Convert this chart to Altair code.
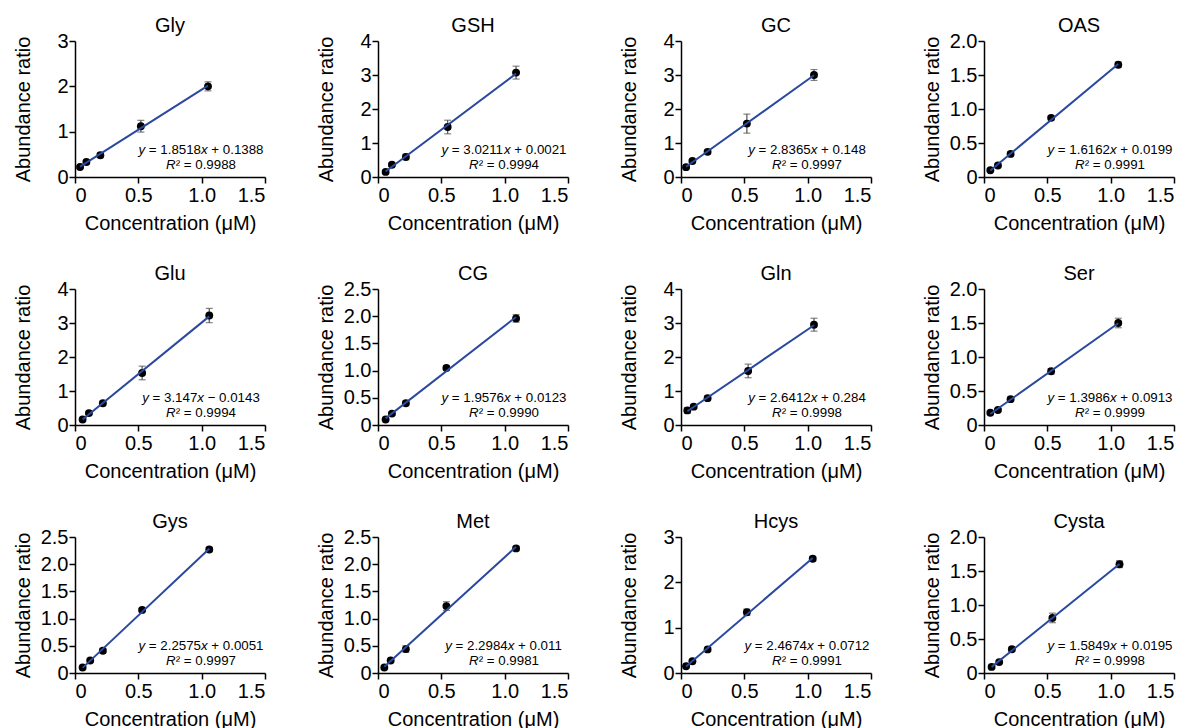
import altair as alt
import pandas as pd

# ---------------- data ----------------
names = ["Gly", "GSH", "GC", "OAS", "Glu", "CG", "Gln", "Ser", "Gys", "Met", "Hcys", "Cysta"]
slope_txt = ["1.8518", "3.0211", "2.8365", "1.6162", "3.147", "1.9576",
             "2.6412", "1.3986", "2.2575", "2.2984", "2.4674", "1.5849"]
intercept_txt = ["0.1388", "0.0021", "0.148", "0.0199", "-0.0143", "0.0123",
                 "0.284", "0.0913", "0.0051", "0.011", "0.0712", "0.0195"]
r2_txt = ["0.9988", "0.9994", "0.9997", "0.9991", "0.9994", "0.9990",
          "0.9998", "0.9999", "0.9997", "0.9981", "0.9991", "0.9998"]
y_max = [3, 4, 4, 2, 4, 2.5, 4, 2, 2.5, 2.5, 3, 2]
y_step = [1, 1, 1, 0.5, 1, 0.5, 1, 0.5, 0.5, 0.5, 1, 0.5]

conc = [
    [0.04, 0.09, 0.20, 0.52, 1.05],
    [0.06, 0.11, 0.22, 0.55, 1.09],
    [0.04, 0.09, 0.21, 0.52, 1.05],
    [0.05, 0.11, 0.21, 0.53, 1.06],
    [0.06, 0.11, 0.22, 0.53, 1.06],
    [0.06, 0.11, 0.22, 0.54, 1.09],
    [0.05, 0.10, 0.21, 0.53, 1.05],
    [0.05, 0.11, 0.21, 0.53, 1.06],
    [0.06, 0.12, 0.22, 0.53, 1.06],
    [0.05, 0.10, 0.22, 0.54, 1.09],
    [0.04, 0.09, 0.21, 0.52, 1.04],
    [0.06, 0.12, 0.22, 0.54, 1.07],
]
ratio = [
    [0.22, 0.33, 0.48, 1.12, 2.00],
    [0.15, 0.36, 0.59, 1.47, 3.07],
    [0.29, 0.47, 0.74, 1.57, 3.00],
    [0.10, 0.17, 0.34, 0.87, 1.65],
    [0.16, 0.35, 0.64, 1.53, 3.22],
    [0.10, 0.21, 0.40, 1.05, 1.96],
    [0.43, 0.54, 0.79, 1.59, 2.95],
    [0.18, 0.22, 0.38, 0.79, 1.50],
    [0.10, 0.23, 0.41, 1.16, 2.27],
    [0.10, 0.23, 0.44, 1.23, 2.29],
    [0.15, 0.26, 0.52, 1.34, 2.52],
    [0.09, 0.16, 0.35, 0.81, 1.60],
]
err = [
    [0.03, 0.04, 0.05, 0.13, 0.10],
    [0.04, 0.05, 0.08, 0.20, 0.19],
    [0.04, 0.05, 0.06, 0.28, 0.16],
    [0.02, 0.02, 0.03, 0.03, 0.04],
    [0.04, 0.05, 0.06, 0.20, 0.21],
    [0.02, 0.03, 0.04, 0.04, 0.07],
    [0.08, 0.05, 0.06, 0.20, 0.19],
    [0.02, 0.02, 0.03, 0.04, 0.07],
    [0.02, 0.03, 0.04, 0.03, 0.04],
    [0.03, 0.03, 0.06, 0.08, 0.04],
    [0.02, 0.03, 0.04, 0.07, 0.05],
    [0.02, 0.02, 0.03, 0.07, 0.05],
]

# ---------------- style ----------------
FONT = "Liberation Sans"
W, H = 190, 136
BLUE = "#2a489e"
EB = "#505050"
ANN_SIZE = 13.3
ANN_CX = 126

ARIAL_W = {".": 278, " ": 278, "=": 584, "+": 584, "\u2212": 584, "x": 500, "y": 500,
           "R": 722, "\u00b2": 333}


def text_width(s, size):
    return sum(ARIAL_W.get(c, 556) for c in s) * size / 1000.0


def tick_values(top, step):
    vals, v = [], 0.0
    while v <= top + 1e-9:
        vals.append(round(v, 3))
        v += step
    return vals


LABEL_EXPR = "datum.value == 0 ? '0' : format(datum.value, '.1f')"


def annotation_layers(pieces, baseline_y):
    """pieces: list of (text, italic); a text of ' ' only advances."""
    total = sum(text_width(s, ANN_SIZE) for s, _ in pieces)
    x0 = ANN_CX - total / 2.0
    layers = []
    one = pd.DataFrame({"k": [0]})
    for s, ital in pieces:
        if s.strip():
            layers.append(
                alt.Chart(one).mark_text(
                    text=s, align="left", baseline="alphabetic", font=FONT,
                    fontSize=ANN_SIZE, fontStyle="italic" if ital else "normal",
                    color="black"
                ).encode(x=alt.value(x0), y=alt.value(baseline_y))
            )
        x0 += text_width(s, ANN_SIZE)
    return layers


def panel(i):
    df = pd.DataFrame({"conc": conc[i], "ratio": ratio[i], "err": err[i]})
    df["lo"] = df["ratio"] - df["err"]
    df["hi"] = df["ratio"] + df["err"]

    xenc = alt.X("conc:Q", scale=alt.Scale(domain=[0, 1.5], nice=False, zero=False),
                 axis=alt.Axis(values=[0, 0.5, 1.0, 1.5], labelExpr=LABEL_EXPR,
                               title="Concentration (\u03bcM)"))
    yscale = alt.Scale(domain=[0, y_max[i]], nice=False)
    yaxis = alt.Axis(values=tick_values(y_max[i], y_step[i]),
                     labelExpr=LABEL_EXPR if y_step[i] < 1 else "format(datum.value, 'd')",
                     title="Abundance ratio")

    base = alt.Chart(df)
    bars = base.mark_rule(color=EB, strokeWidth=1.2).encode(
        x=xenc, y=alt.Y("lo:Q", scale=yscale, axis=yaxis), y2="hi:Q")
    cap_lo = base.mark_tick(orient="horizontal", size=7, thickness=1.2, color=EB).encode(
        x=xenc, y=alt.Y("lo:Q", scale=yscale, axis=yaxis))
    cap_hi = base.mark_tick(orient="horizontal", size=7, thickness=1.2, color=EB).encode(
        x=xenc, y=alt.Y("hi:Q", scale=yscale, axis=yaxis))
    pts = base.mark_circle(size=62, color="black", opacity=1).encode(
        x=xenc, y=alt.Y("ratio:Q", scale=yscale, axis=yaxis))
    line = base.transform_regression("conc", "ratio").mark_line(
        color=BLUE, strokeWidth=2).encode(
        x=xenc, y=alt.Y("ratio:Q", scale=yscale, axis=yaxis))

    ic = intercept_txt[i]
    sign, num = ("\u2212", ic[1:]) if ic.startswith("-") else ("+", ic)
    line1 = [("y", True), (" ", False), ("=", False), (" ", False), (slope_txt[i], False),
             ("x", True), (" ", False), (sign, False), (" ", False), (num, False)]
    line2 = [("R", True), ("\u00b2", False), (" ", False), ("=", False), (" ", False),
             (r2_txt[i], False)]
    texts = annotation_layers(line1, H - 23) + annotation_layers(line2, H - 8.5)

    return alt.layer(bars, cap_lo, cap_hi, pts, line, *texts).properties(
        width=W, height=H,
        title=alt.TitleParams(text=names[i], fontSize=20, font=FONT, fontWeight="normal",
                              anchor="middle", frame="group", offset=-5, color="black"),
    )


chart = alt.concat(*[panel(i) for i in range(12)], columns=4,
                   spacing={"row": 31, "column": 49}).properties(
    padding={"left": 4, "top": 8, "right": 5, "bottom": 5}
).configure_view(
    stroke=None
).configure_axis(
    grid=False, domainColor="black", domainWidth=1.5, tickColor="black", tickWidth=1.5,
    labelFont=FONT, labelFontSize=20, labelColor="black",
    titleFont=FONT, titleFontSize=20, titleFontWeight="normal", titleColor="black",
).configure_axisX(
    tickSize=6, labelPadding=2, titlePadding=8,
).configure_axisY(
    tickSize=6, labelPadding=1, titlePadding=9, minExtent=33, maxExtent=33,
)

chart.save("out.html", embed_options={"renderer": "svg", "actions": False})
